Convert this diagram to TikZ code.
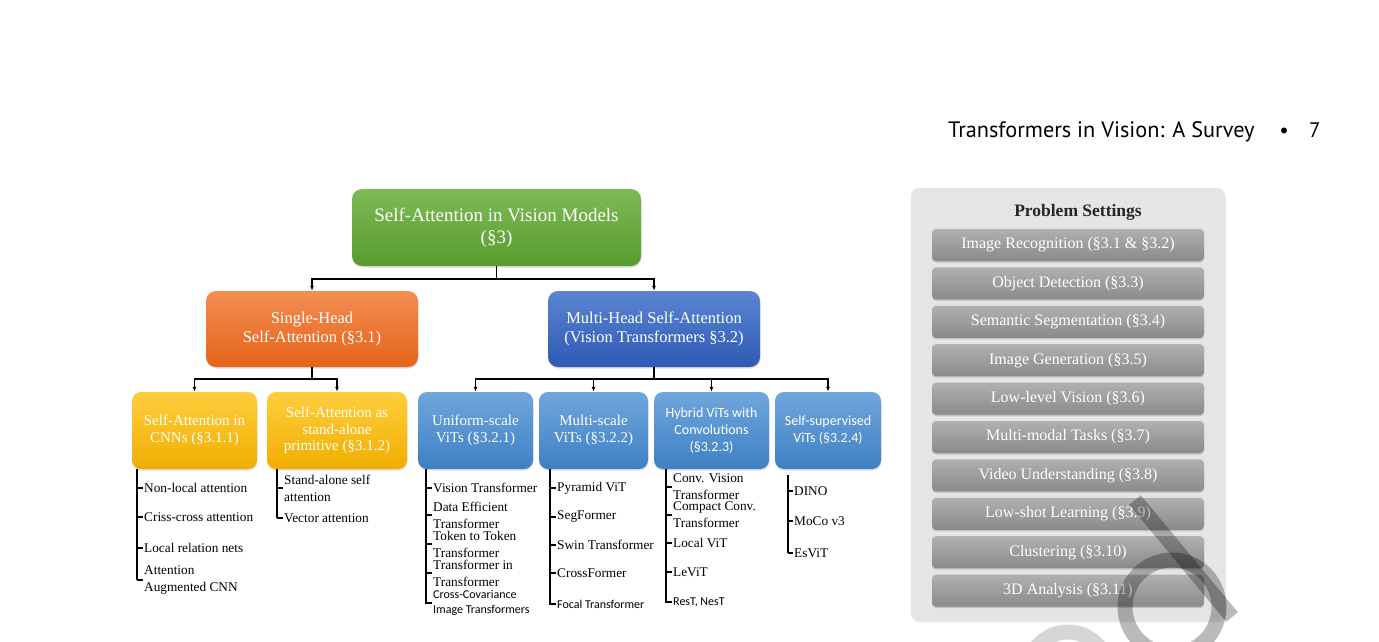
\documentclass[tikz,border=0pt]{standalone}
\usepackage{fontspec}
\setmainfont{Liberation Serif}
\newfontfamily\headfont{PT Sans}
\newfontfamily\calfont{Carlito}
\usetikzlibrary{arrows.meta,shadows}

\definecolor{greenTop}{RGB}{126,186,86}
\definecolor{greenBot}{RGB}{88,156,46}
\definecolor{orangeTop}{RGB}{243,142,82}
\definecolor{orangeBot}{RGB}{228,100,26}
\definecolor{blueTop}{RGB}{92,132,210}
\definecolor{blueBot}{RGB}{46,90,180}
\definecolor{yellowTop}{RGB}{255,206,62}
\definecolor{yellowBot}{RGB}{240,174,0}
\definecolor{skyTop}{RGB}{112,166,220}
\definecolor{skyBot}{RGB}{62,128,196}
\definecolor{barTop}{RGB}{176,176,176}
\definecolor{barBot}{RGB}{138,138,138}
\definecolor{panelGrey}{RGB}{229,229,229}

\tikzset{
  box/.style={rounded corners=10pt, align=center, text=white, inner sep=2pt,
    drop shadow={opacity=0.25, shadow xshift=0.5pt, shadow yshift=-1.5pt}},
  rootbox/.style={box, top color=greenTop, bottom color=greenBot,
    minimum width=289, minimum height=77, font=\fontsize{19}{22}\selectfont},
  headbox/.style={box, minimum width=212, minimum height=76,
    font=\fontsize{16.5}{19}\selectfont},
  subbox/.style={box, rounded corners=9pt, minimum height=77,
    font=\fontsize{15}{16.5}\selectfont},
  link/.style={line width=1.3pt},
  arrow/.style={link, -{Latex[length=5pt,width=4pt]}},
  twig/.style={line width=1.1pt},
  leaf/.style={anchor=west, inner sep=1pt, align=left,
    font=\fontsize{13.3}{17}\selectfont},
  smallleaf/.style={leaf, font=\fontsize{12}{15}\calfont},
  bar/.style={rounded corners=4pt, top color=barTop, bottom color=barBot,
    minimum width=272, minimum height=32, text=white, inner sep=0pt,
    font=\fontsize{16}{16}\selectfont,
    drop shadow={opacity=0.35, shadow xshift=0pt, shadow yshift=-1.5pt}}
}

\begin{document}
\begin{tikzpicture}[x=1pt, y=-1pt]
\useasboundingbox (0,0) rectangle (1379,642);

% running head
\node[anchor=base west, inner sep=0pt, font=\headfont\fontsize{22.3}{22}\selectfont] (head) at (948,137) {Transformers in Vision: A Survey};
\node[anchor=base, inner sep=0pt, font=\headfont\fontsize{21}{21}\selectfont] (bullet) at (1284,137) {\textbullet};
\node[anchor=base west, inner sep=0pt, font=\headfont\fontsize{21}{21}\selectfont] (page) at (1309,137) {7};

% taxonomy boxes
\node[rootbox] (root) at (496.5,227.5) {Self-Attention in Vision Models\\(§3)};
\node[headbox, top color=orangeTop, bottom color=orangeBot] (single) at (312,329) {Single-Head\\Self-Attention (§3.1)};
\node[headbox, top color=blueTop, bottom color=blueBot] (multi) at (654,329) {Multi-Head Self-Attention\\(Vision Transformers §3.2)};

\node[subbox, top color=yellowTop, bottom color=yellowBot, minimum width=125] (cnn) at (194.5,430.5) {Self-Attention in\\CNNs (§3.1.1)};
\node[subbox, top color=yellowTop, bottom color=yellowBot, minimum width=140] (alone) at (337,430.5) {Self-Attention as\\stand-alone\\primitive (§3.1.2)};
\node[subbox, top color=skyTop, bottom color=skyBot, minimum width=115] (uniform) at (475.5,430.5) {Uniform-scale\\ViTs (§3.2.1)};
\node[subbox, top color=skyTop, bottom color=skyBot, minimum width=109] (mscale) at (593.5,430.5) {Multi-scale\\ViTs (§3.2.2)};
\node[subbox, top color=skyTop, bottom color=skyBot, minimum width=115, font=\fontsize{14}{17}\calfont] (hybrid) at (711.5,430.5) {Hybrid ViTs with\\Convolutions\\(§3.2.3)};
\node[subbox, top color=skyTop, bottom color=skyBot, minimum width=106, font=\fontsize{14}{17}\calfont] (selfsup) at (828,430.5) {Self-supervised\\ViTs (§3.2.4)};

% tree connectors
\coordinate (rootbus) at (496.5,279);
\draw[link] (root.south) -- (rootbus);
\draw[arrow] (rootbus) -| (single.north);
\draw[arrow] (rootbus) -| (multi.north);

\coordinate (singlebus) at (312,379);
\draw[link] (single.south) -- (singlebus);
\draw[arrow] (singlebus) -| (cnn.north);
\draw[arrow] (singlebus) -| (alone.north);

\coordinate (multibus) at (654,379);
\draw[link] (multi.south) -- (multibus);
\foreach \b in {uniform,mscale,hybrid,selfsup}
  \draw[arrow] (multibus) -| (\b.north);

% leaf lists
\coordinate (cnnstem) at (137,469);
\foreach \y/\txt [count=\i] in {488/Non-local attention, 517/Criss-cross attention, 548/Local relation nets, 580/{Attention\\Augmented CNN}} {
  \node[leaf] (cnn\i) at (143,\y) {\txt};
  \draw[twig] (cnnstem |- cnn\i.west) -- (cnn\i.west);
}
\draw[twig] (cnnstem) -- (cnnstem |- cnn4.west);

\coordinate (alonestem) at (277,469);
\foreach \y/\txt [count=\i] in {488/{Stand-alone self\\attention}, 518/Vector attention} {
  \node[leaf] (alone\i) at (283,\y) {\txt};
  \draw[twig] (alonestem |- alone\i.west) -- (alone\i.west);
}
\draw[twig] (alonestem) -- (alonestem |- alone2.west);

\coordinate (uniformstem) at (426,469);
\foreach \y/\txt [count=\i] in {488/Vision Transformer, 515/{Data Efficient\\Transformer}, 544/{Token to Token\\Transformer}, 573/{Transformer in\\Transformer}} {
  \node[leaf] (uniform\i) at (432,\y) {\txt};
  \draw[twig] (uniformstem |- uniform\i.west) -- (uniform\i.west);
}
\node[smallleaf] (uniform5) at (432,603) {Cross-Covariance\\Image Transformers};
\draw[twig] (uniformstem) -- (uniformstem |- uniform5.west) -- (uniform5.west);

\coordinate (mscalestem) at (550,469);
\foreach \y/\txt [count=\i] in {488/Pyramid ViT, 517/SegFormer, 545/Swin Transformer, 573/CrossFormer} {
  \node[leaf] (mscale\i) at (556,\y) {\txt};
  \draw[twig] (mscalestem |- mscale\i.west) -- (mscale\i.west);
}
\node[smallleaf] (mscale5) at (556,604) {Focal Transformer};
\draw[twig] (mscalestem) -- (mscalestem |- mscale5.west) -- (mscale5.west);

\coordinate (hybridstem) at (666,469);
\foreach \y/\txt [count=\i] in {487/{Conv. Vision\\Transformer}, 515/{Compact Conv.\\Transformer}, 543/Local ViT, 572/LeViT} {
  \node[leaf] (hybrid\i) at (672,\y) {\txt};
  \draw[twig] (hybridstem |- hybrid\i.west) -- (hybrid\i.west);
}
\node[smallleaf] (hybrid5) at (672,602) {ResT, NesT};
\draw[twig] (hybridstem) -- (hybridstem |- hybrid5.west) -- (hybrid5.west);

\coordinate (selfsupstem) at (788,475);
\foreach \y/\txt [count=\i] in {491/DINO, 521/MoCo v3, 553/EsViT} {
  \node[leaf] (selfsup\i) at (793,\y) {\txt};
  \draw[twig] (selfsupstem |- selfsup\i.west) -- (selfsup\i.west);
}
\draw[twig] (selfsupstem) -- (selfsupstem |- selfsup3.west);

% problem settings panel
\node[rounded corners=8pt, fill=panelGrey, minimum width=314, minimum height=433,
  drop shadow={opacity=0.15, shadow xshift=1pt, shadow yshift=-1.5pt}] (panel) at (1068,404.5) {};
\node[font=\fontsize{17.5}{17.5}\selectfont\bfseries, text=black!85] (pstitle) at (1078,212) {Problem Settings};
\foreach \txt [count=\i] in {Image Recognition (§3.1 \& §3.2), Object Detection (§3.3),
    Semantic Segmentation (§3.4), Image Generation (§3.5), Low-level Vision (§3.6),
    Multi-modal Tasks (§3.7), Video Understanding (§3.8), Low-shot Learning (§3.9),
    Clustering (§3.10), 3D Analysis (§3.11)}
  \node[bar] (ps\i) at (1068,{245+(\i-1)*38.4}) {\txt};

% watermark
\begin{scope}
  \clip (0,0) rectangle (1379,642);
  \draw[black, opacity=0.27, line width=15pt] (1135,500) -- (1232,617);
  \draw[black, opacity=0.27, line width=15pt] (1172,607) circle (47);
  \draw[black, opacity=0.16, line width=15pt] (1068,672) circle (40);
\end{scope}
\end{tikzpicture}
\end{document}
